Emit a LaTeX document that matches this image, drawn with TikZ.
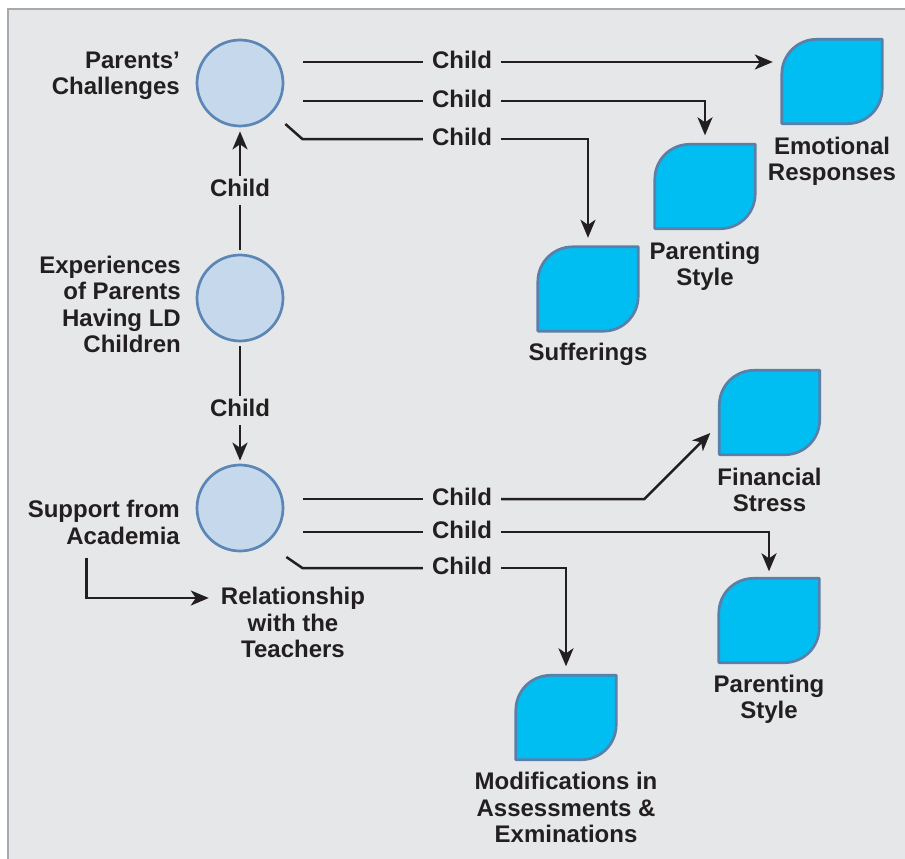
\documentclass[tikz,border=0pt]{standalone}
\usepackage{fontspec}
\setmainfont{Liberation Sans}
\usetikzlibrary{arrows.meta,calc}
\definecolor{bg}{HTML}{E6E7E8}
\definecolor{framec}{HTML}{A7A9AC}
\definecolor{cfill}{HTML}{C6D9EC}
\definecolor{cline}{HTML}{5B86B5}
\definecolor{lfill}{HTML}{00BDF2}
\definecolor{lline}{HTML}{5A7FA9}
\definecolor{ink}{HTML}{231F20}
\newcommand\leafdraw[1]{%
 \draw[leafline] (#1.north east) -- ([yshift=35pt]#1.south east)
   .. controls ([yshift=15.5pt]#1.south east) and ([xshift=-15.5pt]#1.south east) .. ([xshift=-35pt]#1.south east)
   -- (#1.south west) -- ([yshift=-35pt]#1.north west)
   .. controls ([yshift=-15.5pt]#1.north west) and ([xshift=15.5pt]#1.north west) .. ([xshift=35pt]#1.north west)
   -- cycle;}
\begin{document}
\begin{tikzpicture}[x=1pt,y=-1pt,
  circ/.style={circle, draw=cline, line width=2.7pt, fill=cfill, minimum size=86pt, inner sep=0pt},
  leaf/.style={rectangle, minimum width=100pt, minimum height=84pt, inner sep=0pt},
  leafline/.style={draw=lline, fill=lfill, line width=2.7pt, line join=round},
  lbl/.style={font=\fontsize{24}{26.5}\selectfont\bfseries, text=ink, inner sep=0pt},
  childlbl/.style={font=\fontsize{24}{26.5}\selectfont\bfseries, text=ink, inner xsep=9pt, inner ysep=3pt, text height=17.5pt, text depth=5pt},
  conn/.style={draw=ink, line width=2.5pt},
  arr/.style={conn, -{Stealth[length=18pt,width=15pt,inset=5pt]}}]
\useasboundingbox (0,0) rectangle (905,859);
\fill[white] (0,0) rectangle (905,859);
\fill[bg] (8,9) rectangle (905,859);
\draw[framec, line width=2.5pt] (8,859) -- (8,9) -- (905,9);

% circles
\node[circ] (c1) at (240,83) {};
\node[circ] (c2) at (240,298) {};
\node[circ] (c3) at (240,508) {};

% leaf nodes
\node[leaf] (er) at (832,81.5) {};
\node[leaf] (ps1) at (705,186.5) {};
\node[leaf] (suf) at (588,289) {};
\node[leaf] (fs) at (769.5,412.5) {};
\node[leaf] (ps2) at (769,620.5) {};
\node[leaf] (mod) at (566,717.5) {};
\leafdraw{er}
\leafdraw{ps1}
\leafdraw{suf}
\leafdraw{fs}
\leafdraw{ps2}
\leafdraw{mod}

% left labels
\node[lbl, align=right, anchor=north east] (t1) at (180,51.5) {Parents’\\Challenges};
\node[lbl, align=right, anchor=north east] (t2) at (181,255.5) {Experiences\\of Parents\\Having LD\\Children};
\node[lbl, align=right, anchor=north east] (t3) at (180,500) {Support from\\Academia};
\node[lbl, align=center, anchor=north] (rel) at (293,587) {Relationship\\with the\\Teachers};

% leaf labels
\node[lbl, align=center, anchor=north] (erl) at ([yshift=-13pt]er.south) {Emotional\\Responses};
\node[lbl, align=center, anchor=north] (ps1l) at ([yshift=-13pt]ps1.south) {Parenting\\Style};
\node[lbl, align=center, anchor=north] (sufl) at ([yshift=-12pt]suf.south) {Sufferings};
\node[lbl, align=center, anchor=north] (fsl) at ([yshift=-13pt]fs.south) {Financial\\Stress};
\node[lbl, align=center, anchor=north] (ps2l) at ([yshift=-12pt]ps2.south) {Parenting\\Style};
\node[lbl, align=center, anchor=north] (modl) at ([yshift=-12.5pt]mod.south) {Modifications in\\Assessments \&\\Exminations};

% child labels on horizontal connectors
\node[childlbl] (a1) at (462,62) {Child};
\node[childlbl] (a2) at (462,101) {Child};
\node[childlbl] (a3) at (462,139) {Child};
\node[childlbl] (b1) at (462,499) {Child};
\node[childlbl] (b2) at (462,532) {Child};
\node[childlbl] (b3) at (462,568) {Child};

% connectors from c1
\draw[conn] ([xshift=19pt,yshift=21pt]c1.east) -- (a1.west);
\draw[arr, shorten >=9pt] (a1.east) -- (a1.east -| er.west);
\draw[conn] ([xshift=19pt,yshift=-18pt]c1.east) -- (a2.west);
\draw[arr, shorten >=9pt] (a2.east) -| (ps1.north);
\draw[conn] ([xshift=1pt,yshift=-41pt]c1.east) -- ([xshift=18pt,yshift=-56pt]c1.east) -- (a3.west);
\draw[arr, shorten >=9pt] (a3.east) -| (suf.north);

% connectors from c3
\coordinate (fstip) at ([xshift=-9pt,yshift=-20.5pt]fs.west);
\draw[conn] ([xshift=19pt,yshift=9pt]c3.east) -- (b1.west);
\draw[arr] (b1.east) -- ([xshift=-66pt,yshift=-66pt]fstip) -- (fstip);
\draw[conn] ([xshift=19pt,yshift=-24pt]c3.east) -- (b2.west);
\draw[arr, shorten >=7pt] (b2.east) -| (ps2.north);
\draw[conn] ([xshift=2pt,yshift=-49pt]c3.east) -- ([xshift=18pt,yshift=-60pt]c3.east) -- (b3.west);
\draw[arr, shorten >=9pt] (b3.east) -| (mod.north);

% vertical connectors
\draw[arr, shorten >=4pt, shorten <=4pt] (c2.north) -- node[childlbl, fill=bg] (v1) {Child} (c1.south);
\draw[arr, shorten >=3pt, shorten <=4pt] (c2.south) -- node[childlbl, fill=bg, pos=0.56] (v2) {Child} (c3.north);

% support -> relationship
\draw[arr] ([xshift=59pt,yshift=-13pt]t3.south west) |- ([xshift=-12pt,yshift=-11pt]rel.north west);
\end{tikzpicture}
\end{document}
